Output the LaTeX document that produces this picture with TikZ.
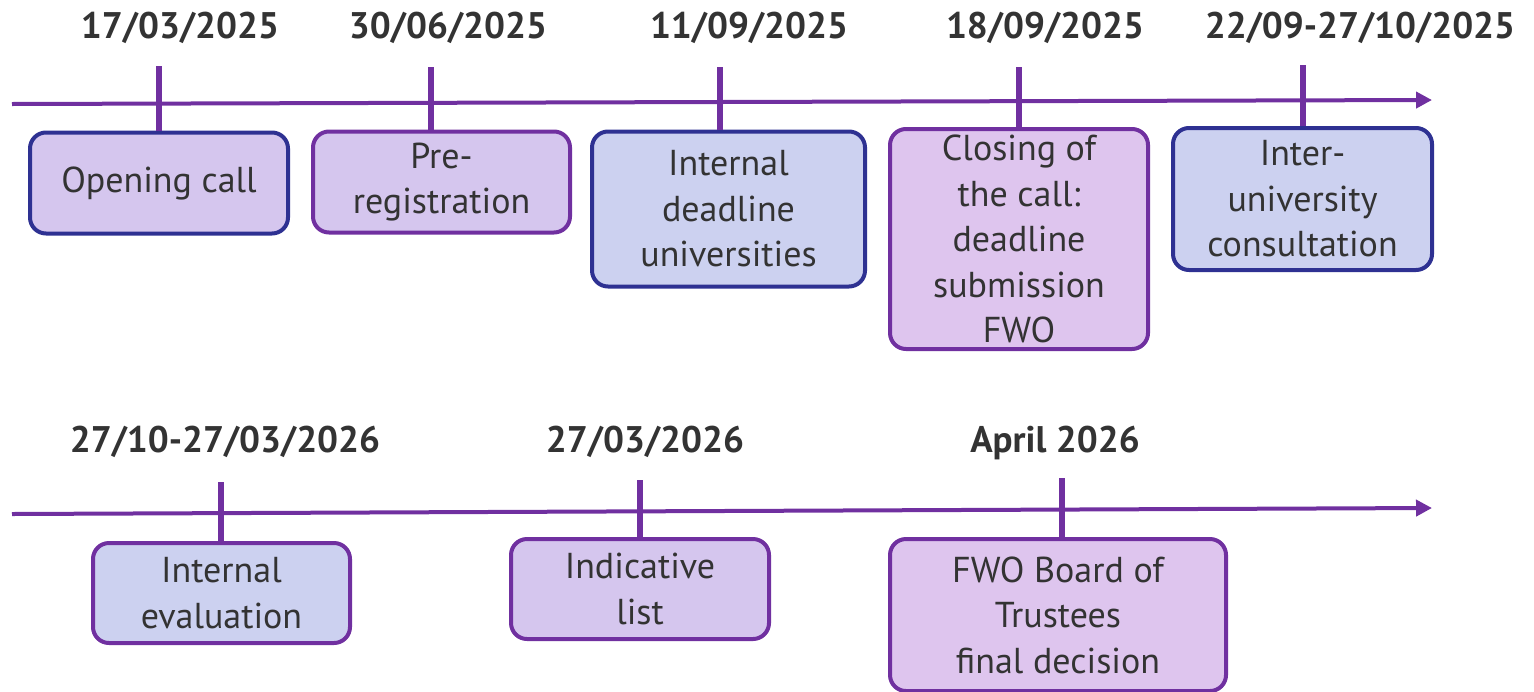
\documentclass[tikz,border=0pt]{standalone}
\usepackage{fontspec}
\setmainfont{PT Sans}
\usetikzlibrary{arrows.meta}
\definecolor{axispurple}{HTML}{7030A0}
\definecolor{darkblue}{HTML}{2E3192}
\definecolor{lavender}{HTML}{D5C6EE}
\definecolor{paleblue}{HTML}{CCD1F0}
\definecolor{palepink}{HTML}{DEC5EE}
\definecolor{textgrey}{HTML}{333333}
\tikzset{
  axis/.style={axispurple,line width=2pt,-{Triangle[length=8pt,width=8pt]}},
  tick/.style={axispurple,line width=3pt},
  date/.style={anchor=base,font=\fontsize{18.5}{22}\selectfont\bfseries,text=textgrey},
  event/.style={rounded corners=8pt,line width=2pt,align=center,inner sep=0pt,
    font=\fontsize{18}{22.8}\selectfont,text=textgrey},
}
\begin{document}
\begin{tikzpicture}[x=0.5pt,y=-0.5pt]
    \useasboundingbox (0,0) rectangle (1534,691);

    % first year
    \coordinate (a1) at (12,104);
    \coordinate (a2) at (1432,100);
    \draw[axis] (a1) -- (a2);

    \node[date] (d1) at (180,38) {17/03/2025};
    \node[date] (d2) at (448,38) {30/06/2025};
    \node[date] (d3) at (749,38) {11/09/2025};
    \node[date] (d4) at (1045,38) {18/09/2025};
    \node[date] (d5) at (1360,38) {22/09-27/10/2025};

    \node[event,draw=darkblue,fill=lavender,minimum width=129pt,minimum height=50.5pt] (b1) at (159,183) {Opening call};
    \node[event,draw=axispurple,fill=lavender,minimum width=128.5pt,minimum height=50.5pt] (b2) at (441.5,182) {Pre-\\registration};
    \node[event,draw=darkblue,fill=paleblue,minimum width=136.5pt,minimum height=77.5pt] (b3) at (728.5,209) {Internal\\deadline\\universities};
    \node[event,draw=axispurple,fill=palepink,minimum width=129pt,minimum height=110pt] (b4) at (1019,239) {Closing of\\the call:\\deadline\\submission\\FWO};
    \node[event,draw=darkblue,fill=paleblue,minimum width=129.5pt,minimum height=71pt] (b5) at (1302.5,199) {Inter-\\university\\consultation};

    \coordinate (t1) at (159,66);
    \coordinate (t2) at (431,67);
    \coordinate (t3) at (720,67);
    \coordinate (t4) at (1019,67);
    \coordinate (t5) at (1303,65);
    \draw[tick] (t1) -- (t1 |- b1.north);
    \draw[tick] (t2) -- (t2 |- b2.north);
    \draw[tick] (t3) -- (t3 |- b3.north);
    \draw[tick] (t4) -- (t4 |- b4.north);
    \draw[tick] (t5) -- (t5 |- b5.north);

    % second year
    \coordinate (a3) at (12,514);
    \coordinate (a4) at (1432,508);
    \draw[axis] (a3) -- (a4);

    \node[date] (d6) at (225,452) {27/10-27/03/2026};
    \node[date] (d7) at (645,452) {27/03/2026};
    \node[date] (d8) at (1055,452) {April 2026};

    \node[event,draw=axispurple,fill=paleblue,minimum width=128.5pt,minimum height=50pt] (b6) at (221.5,593) {Internal\\evaluation};
    \node[event,draw=axispurple,fill=lavender,minimum width=129pt,minimum height=50pt] (b7) at (640,589) {Indicative\\list};
    \node[event,draw=axispurple,fill=palepink,minimum width=168pt,minimum height=76pt] (b8) at (1058,615) {FWO Board of\\Trustees\\final decision};

    \coordinate (t6) at (221,482);
    \coordinate (t7) at (640,480);
    \coordinate (t8) at (1062,478);
    \draw[tick] (t6) -- (t6 |- b6.north);
    \draw[tick] (t7) -- (t7 |- b7.north);
    \draw[tick] (t8) -- (t8 |- b8.north);
\end{tikzpicture}
\end{document}
